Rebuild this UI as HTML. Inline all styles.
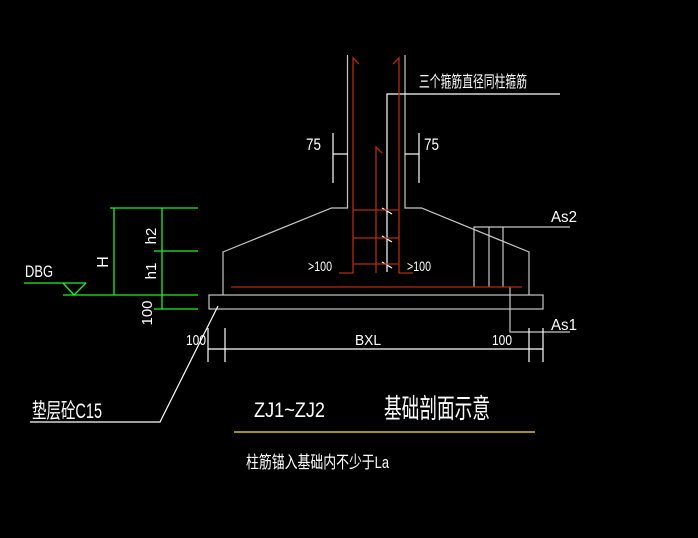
<!DOCTYPE html>
<html><head><meta charset="utf-8"><style>
html,body{margin:0;padding:0;background:#000;}
svg{display:block}
text{font-family:"Liberation Sans","Noto Sans CJK SC",sans-serif;fill:#fff;}
</style></head><body>
<svg width="698" height="538" viewBox="0 0 698 538" xmlns="http://www.w3.org/2000/svg">
<rect width="698" height="538" fill="#000"/>
<g stroke="#c8c8c8" stroke-width="1.2" fill="none">
<polyline points="223,295 223,252 331.5,208 347.5,208 347.5,55"/>
<polyline points="529,295 529,252 421.5,208 405,208 405,55"/>
<rect x="209" y="295" width="334" height="14"/>
<polyline points="570,227 474,227 474,287"/>
<line x1="489" y1="227" x2="489" y2="287"/>
<line x1="503" y1="227" x2="503" y2="287"/>
<polyline points="510,287 510,332 570,332"/>
</g>
<g stroke="#fff" stroke-width="1.2" fill="none">
<polyline points="387,272 387,94 560,94"/>
<line x1="333" y1="133" x2="333" y2="183"/>
<line x1="333" y1="154" x2="348" y2="154"/>
<line x1="419" y1="133" x2="419" y2="183"/>
<line x1="405" y1="154" x2="419" y2="154"/>
<line x1="382" y1="208" x2="392" y2="214"/>
<line x1="382" y1="236" x2="392" y2="242"/>
<line x1="382" y1="262" x2="392" y2="268"/>
<line x1="208" y1="328" x2="208" y2="362"/>
<line x1="225" y1="328" x2="225" y2="362"/>
<line x1="529" y1="328" x2="529" y2="362"/>
<line x1="543" y1="328" x2="543" y2="362"/>
<line x1="208" y1="349" x2="543" y2="349"/>
<polyline points="218,306 160,422 30,422"/>
</g>
<g stroke="#b8280e" stroke-width="1.3" fill="none">
<polyline points="339,273 353,273 353,58 359,64"/>
<polyline points="413,273 399,273 399,58 393,64"/>
<polyline points="376,273 376,147 382,153"/>
<line x1="353" y1="210" x2="399" y2="210"/>
<line x1="353" y1="238" x2="399" y2="238"/>
<line x1="353" y1="264" x2="399" y2="264"/>
<line x1="231" y1="287" x2="522" y2="287"/>
</g>
<g stroke="#22f022" stroke-width="1.3" fill="none">
<line x1="110" y1="208" x2="198" y2="208"/>
<line x1="114" y1="208" x2="114" y2="295"/>
<line x1="162" y1="208" x2="162" y2="309"/>
<line x1="154" y1="251" x2="198" y2="251"/>
<line x1="63" y1="295" x2="198" y2="295"/>
<line x1="154" y1="309" x2="198" y2="309"/>
<line x1="24" y1="283" x2="86" y2="283"/>
<polyline points="63,283 74,295 86,283"/>
</g>
<line x1="234" y1="432" x2="535" y2="432" stroke="#ffee22" stroke-width="1.2"/>
<text x="419" y="87" font-size="16" textLength="108" lengthAdjust="spacingAndGlyphs">三个箍筋直径同柱箍筋</text>
<text x="306" y="150" font-size="17" textLength="15" lengthAdjust="spacingAndGlyphs">75</text>
<text x="424" y="150" font-size="17" textLength="15" lengthAdjust="spacingAndGlyphs">75</text>
<text x="308" y="271" font-size="14" textLength="24" lengthAdjust="spacingAndGlyphs">&gt;100</text>
<text x="407" y="271" font-size="14" textLength="24" lengthAdjust="spacingAndGlyphs">&gt;100</text>
<text x="551" y="222" font-size="16" textLength="26" lengthAdjust="spacingAndGlyphs">As2</text>
<text x="551" y="330" font-size="16" textLength="26" lengthAdjust="spacingAndGlyphs">As1</text>
<text x="186" y="345" font-size="15" textLength="20" lengthAdjust="spacingAndGlyphs">100</text>
<text x="492" y="345" font-size="15" textLength="20" lengthAdjust="spacingAndGlyphs">100</text>
<text x="355" y="345" font-size="15" textLength="26" lengthAdjust="spacingAndGlyphs">BXL</text>
<text x="25" y="277" font-size="17" textLength="28" lengthAdjust="spacingAndGlyphs">DBG</text>
<text transform="translate(108,262) rotate(-90)" font-size="16" text-anchor="middle">H</text>
<text transform="translate(156,236) rotate(-90)" font-size="15" text-anchor="middle">h2</text>
<text transform="translate(156,271) rotate(-90)" font-size="15" text-anchor="middle">h1</text>
<text transform="translate(152,313) rotate(-90)" font-size="15" text-anchor="middle">100</text>
<text x="32" y="418" font-size="21" textLength="70" lengthAdjust="spacingAndGlyphs">垫层砼C15</text>
<text x="254" y="417" font-size="21" textLength="71" lengthAdjust="spacingAndGlyphs">ZJ1~ZJ2</text>
<text x="384" y="418" font-size="27" textLength="106" lengthAdjust="spacingAndGlyphs">基础剖面示意</text>
<text x="246" y="468" font-size="17" textLength="143" lengthAdjust="spacingAndGlyphs">柱筋锚入基础内不少于La</text>
</svg>
</body></html>
